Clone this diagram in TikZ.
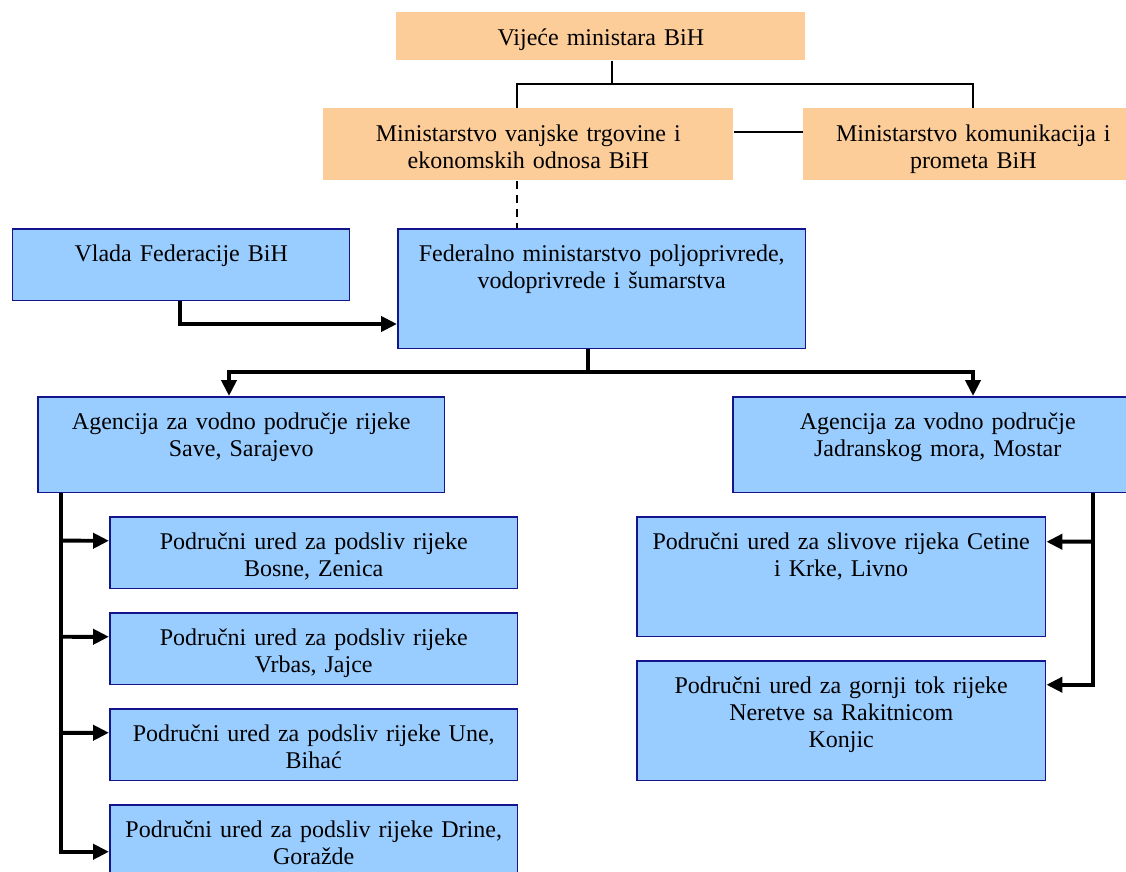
\documentclass[tikz,border=0pt]{standalone}
\usepackage{fontspec}
\setmainfont[WordSpace=0.8]{Liberation Serif}
\usetikzlibrary{arrows.meta,calc}
\definecolor{orng}{RGB}{252,204,153}
\definecolor{lblue}{RGB}{153,204,255}
\definecolor{bnavy}{RGB}{20,20,140}
\tikzset{
  base/.style={anchor=north west, align=center, inner ysep=0pt, inner xsep=0.1cm,
    text height=0.66cm, font=\fontsize{13.66}{15.37}\selectfont},
  obox/.style={base, fill=orng, draw=none},
  bbox/.style={base, fill=lblue, draw=bnavy, line width=0.03cm},
  thinline/.style={line width=0.04cm, black},
  thickarr/.style={line width=0.08cm, black, -{Triangle[length=0.32cm,width=0.3cm]}},
  thickline/.style={line width=0.08cm, black},
}
\begin{document}
\begin{tikzpicture}[x=0.02cm, y=-0.02cm]
\clip (0,0) rectangle (1126,872);
\fill[white] (0,0) rectangle (1126,872);
% top level
\node[obox, text width=7.98cm, text depth=0.30cm] (v) at (396,12) {Vijeće ministara BiH};
\node[obox, text width=8.0cm, text depth=0.78cm] (mvt) at (323,108) {Ministarstvo vanjske trgovine i\\ekonomskih odnosa BiH};
\node[obox, text width=6.6cm, text depth=0.78cm] (mk) at (803,108) {Ministarstvo komunikacija i\\prometa BiH};
% federation
\node[bbox, text width=6.54cm, text depth=0.78cm] (vl) at (12,228) {Vlada Federacije BiH};
\node[bbox, text width=7.96cm, text depth=1.74cm] (fm) at (397,228) {Federalno ministarstvo poljoprivrede,\\vodoprivrede i šumarstva};
% agencies
\node[bbox, text width=7.94cm, text depth=1.26cm] (as) at (37,396) {Agencija za vodno područje rijeke\\Save, Sarajevo};
\node[bbox, text width=8.0cm, text depth=1.26cm] (aj) at (732,396) {Agencija za vodno područje\\Jadranskog mora, Mostar};
% left offices
\node[bbox, text width=7.96cm, text depth=0.78cm] (s1) at (109,516) {Područni ured za podsliv rijeke\\Bosne, Zenica};
\node[bbox, text width=7.96cm, text depth=0.78cm] (s2) at (109,612) {Područni ured za podsliv rijeke\\Vrbas, Jajce};
\node[bbox, text width=7.96cm, text depth=0.78cm] (s3) at (109,708) {Područni ured za podsliv rijeke Une,\\Bihać};
\node[bbox, text width=7.96cm, text depth=0.78cm] (s4) at (109,804) {Područni ured za podsliv rijeke Drine,\\Goražde};
% right offices
\node[bbox, text width=7.98cm, text depth=1.74cm] (r1) at (636,516) {Područni ured za slivove rijeka Cetine\\i Krke, Livno};
\node[bbox, text width=7.98cm, text depth=1.74cm] (r2) at (636,660) {Područni ured za gornji tok rijeke\\Neretve sa Rakitnicom\\Konjic};
% junction coordinates
\coordinate (j1) at (612,84);
\coordinate (a1) at (517,84);
\coordinate (c1) at (973,84);
\coordinate (h1) at (700,132);
\coordinate (k1) at (180,324);
\coordinate (f0) at (588,372);
\coordinate (f1) at (229,372);
\coordinate (f2) at (973,372);
\coordinate (l0) at (61,492);
\coordinate (r0) at (1093,492);
% top connectors
\draw[thinline] (v.south -| j1) -- (j1);
\draw[thinline] (mvt.north -| a1) -- (a1) -- (c1) -- (mk.north -| c1);
\draw[thinline] (mvt.east |- h1) -- (mk.west |- h1);
\draw[thinline, dash pattern=on 0.16cm off 0.12cm] (mvt.south -| a1) -- (fm.north -| a1);
% federation connectors
\draw[thickarr] (vl.south -| k1) -- (k1) -- (fm.west |- k1);
\draw[thickline] (fm.south -| f0) -- (f0);
\draw[thickarr] (f0) -- (f1) -- (as.north -| f1);
\draw[thickarr] (f0) -- (f2) -- (aj.north -| f2);
% left tree
\draw[thickarr] (as.south -| l0) |- ([yshift=-0.22cm]s4.west);
\draw[thickarr] (l0 |- s1.west) ++(0,-12) -- ([yshift=0.24cm]s1.west);
\draw[thickarr] (l0 |- s2.west) ++(0,-12) -- ([yshift=0.24cm]s2.west);
\draw[thickarr] (l0 |- s3.west) ++(0,-12) -- ([yshift=0.24cm]s3.west);
% right tree
\draw[thickarr] (aj.south -| r0) |- ([yshift=0.72cm]r2.east);
\draw[thickarr] (r0 |- r1.east) ++(0,-35) -- ([yshift=0.7cm]r1.east);
\end{tikzpicture}
\end{document}
